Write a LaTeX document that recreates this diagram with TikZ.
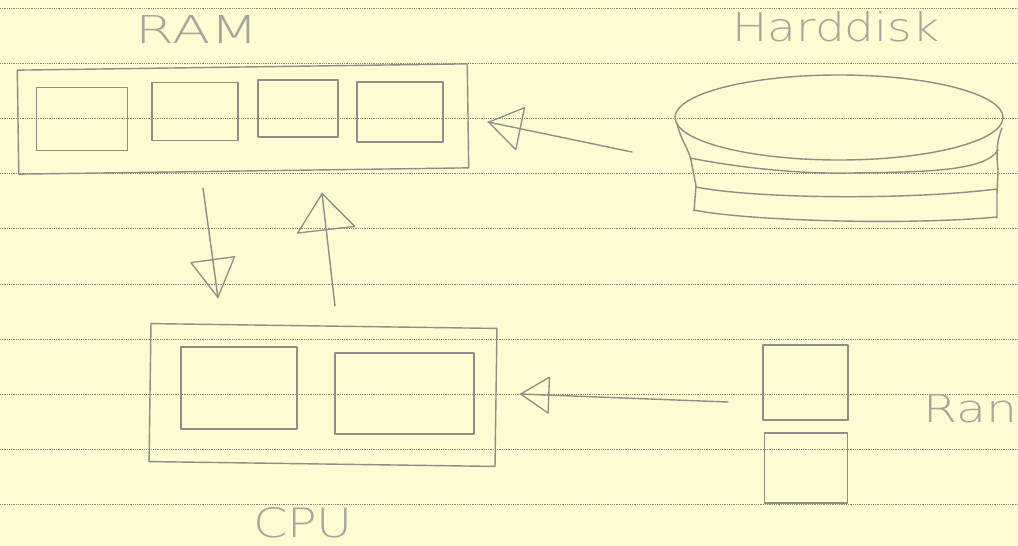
\documentclass[tikz,border=0pt]{standalone}
\usepackage{fontspec}
\usetikzlibrary{arrows.meta,decorations.markings,shapes.geometric}
\newfontfamily\handfont{DejaVu Sans ExtraLight}
\definecolor{paper}{RGB}{253,251,209}
\definecolor{pencil}{RGB}{142,142,136}
\definecolor{lead}{RGB}{165,165,157}
\definecolor{ruling}{RGB}{135,135,125}

\begin{document}
\begin{tikzpicture}[x=1pt,y=-1pt,
  cell/.style={draw=pencil, line width=1.4pt, rectangle, inner sep=0pt, line join=round},
  handtext/.style={text=lead, inner sep=0pt, font=\handfont\fontsize{40}{40}\selectfont},
  stroke/.style={draw=pencil, line width=1.4pt, line cap=round, line join=round},
  headed/.style 2 args={postaction={decorate},
    decoration={markings, mark=at position 1 with
      {\arrow[pencil, line width=1.3pt]{Triangle[open, round, length=#1pt, width=#2pt]}}}},
  ruleline/.style={draw=ruling, line width=0.7pt, dash pattern=on 0.9pt off 0.9pt}
]
% paper and its ruling
\fill[paper] (0,0) rectangle (1018,546);
\useasboundingbox (0,0) rectangle (1018,546);
\foreach \k in {0,...,9}
  \draw[ruleline] (0,{8+55.2*\k}) -- (1018,{8+55.2*\k});

% RAM module with four cells
\node[cell, rotate=0.8, minimum width=450pt, minimum height=104pt] (ram) at (243,119) {};
\node[cell, minimum width=91pt, minimum height=63pt] (ram1) at (82,119) {};
\node[cell, minimum width=86pt, minimum height=58pt] (ram2) at (195,111.5) {};
\node[cell, minimum width=80pt, minimum height=57pt] (ram3) at (298,108.5) {};
\node[cell, minimum width=86pt, minimum height=60pt] (ram4) at (400,112) {};
\node[handtext] (ramlabel) at (197,30) {\resizebox{123pt}{28pt}{RAM}};

% CPU with two units
\node[cell, rotate=-0.8, minimum width=346pt, minimum height=138pt] (cpu) at (323,395) {};
\node[cell, minimum width=116pt, minimum height=82pt] (cpu1) at (239,388) {};
\node[cell, minimum width=139pt, minimum height=81pt] (cpu2) at (404.5,393.5) {};
\node[handtext] (cpulabel) at (303,523) {\resizebox{100pt}{30pt}{CPU}};

% two stacked memory cells
\node[cell, minimum width=85pt, minimum height=75pt] (cellA) at (805.5,382.5) {};
\node[cell, minimum width=83pt, minimum height=70pt] (cellB) at (806,468) {};
\node[handtext] (cellslabel) at (970,409) {\resizebox{94pt}{28pt}{Ran}};

% hard disk: a stack of platters
\node[shape=ellipse, draw=pencil, line width=1.4pt, inner sep=0pt,
      minimum width=328pt, minimum height=85pt] (disk) at (839,117.5) {};
\draw[stroke] (677,124) .. controls (681,140) and (689,150) .. (691,160) -- (696,186) -- (694,211);
\draw[stroke] (1002,128) .. controls (997,140) and (996,152) .. (998,170) -- (997,194) -- (997,218);
\draw[stroke] (690,158) .. controls (740,168) and (800,174) .. (850,173)
              .. controls (920,172) and (985,172) .. (998,150);
\draw[stroke] (696,187) .. controls (750,198) and (900,201) .. (997,189);
\draw[stroke] (694,210) .. controls (740,220) and (900,226) .. (997,217);
\node[handtext] (disklabel) at (836,27) {\resizebox{207pt}{30pt}{Harddisk}};

% data paths
\coordinate (diskOut) at (632,152);
\coordinate (ramIn)   at (488,122);
\coordinate (ramOut)  at (203,188);
\coordinate (cpuIn)   at (218,298);
\coordinate (cpuOut)  at (335,306);
\coordinate (ramBack) at (322,193);
\coordinate (cellOut) at (728,402);
\coordinate (cpuSide) at (520,394);

\draw[stroke, headed={34}{45}] (diskOut) -- (ramIn);
\draw[stroke, headed={40}{46}] (ramOut) -- (cpuIn);
\draw[stroke, headed={38}{60}] (cpuOut) -- (ramBack);
\draw[stroke, headed={30}{38}] (cellOut) -- (cpuSide);
\end{tikzpicture}
\end{document}
